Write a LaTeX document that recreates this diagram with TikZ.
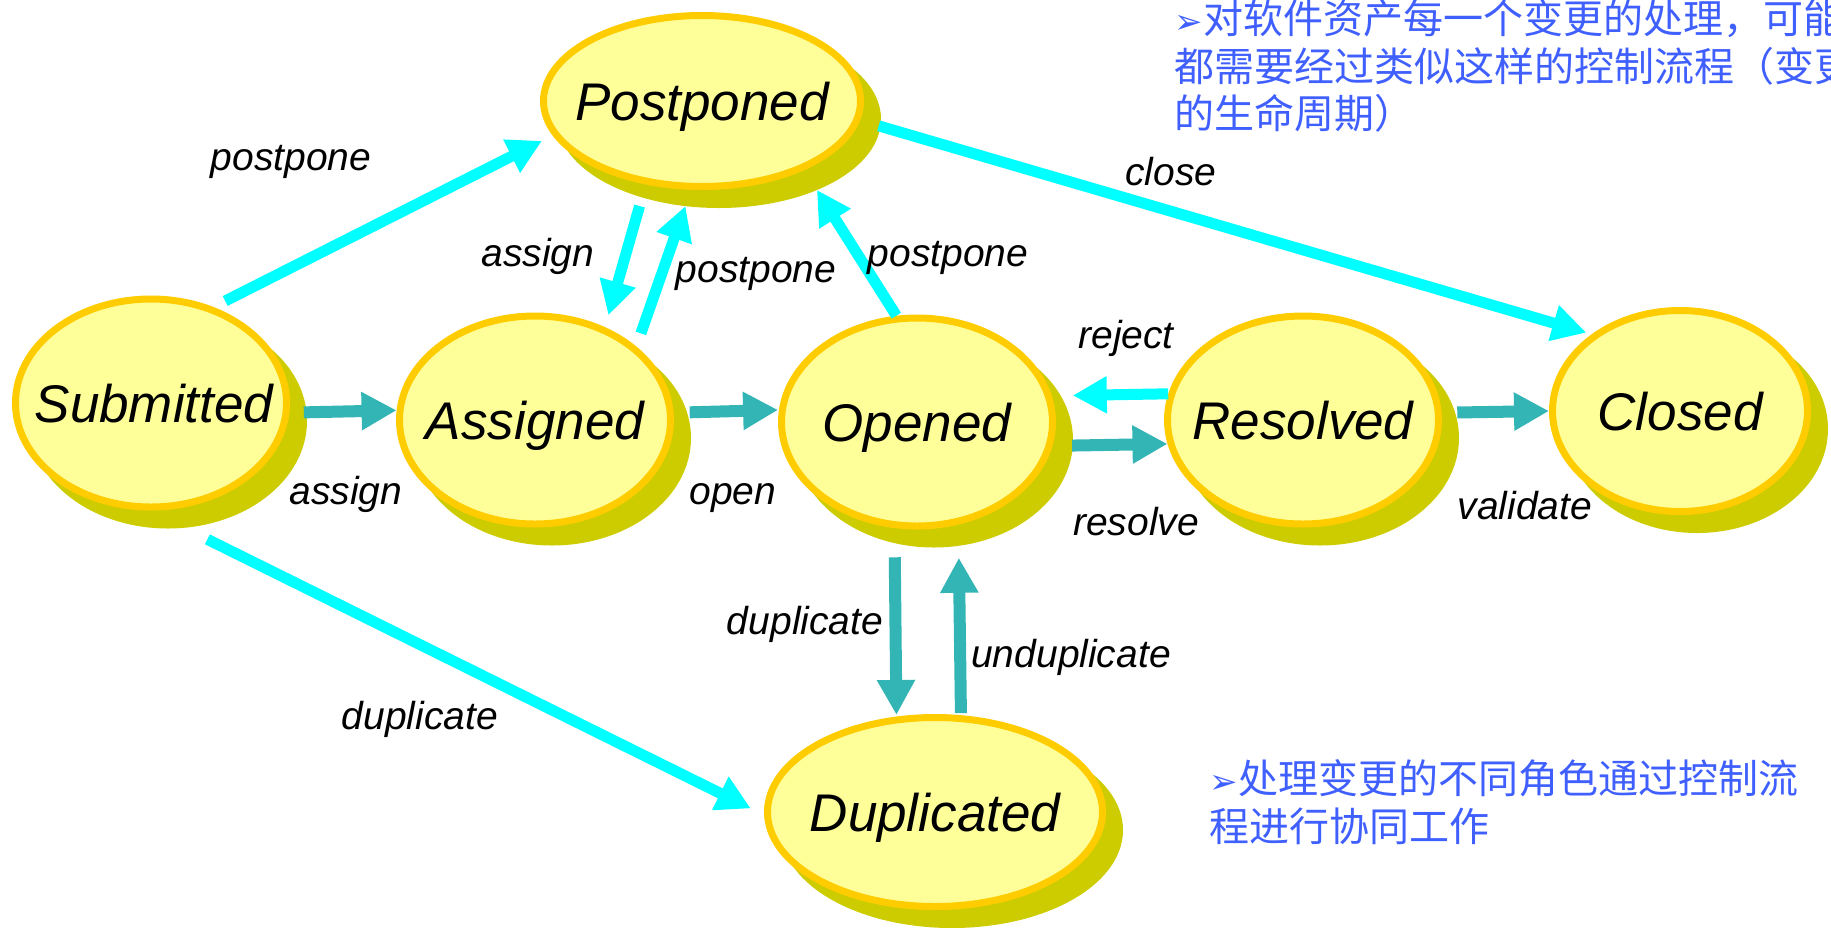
\documentclass[tikz,border=0pt]{standalone}
\usepackage{fontspec}
\setmainfont{Liberation Sans}
\newfontfamily\cjkfont{Noto Sans CJK SC}
\newfontfamily\symfont{DejaVu Sans}
\usetikzlibrary{shapes.geometric,arrows.meta,shadows}
\definecolor{statefill}{HTML}{FFFF99}
\definecolor{stateline}{HTML}{FFCC00}
\definecolor{stateshadow}{HTML}{CCCC00}
\definecolor{flowcyan}{HTML}{00FFFF}
\definecolor{flowteal}{HTML}{33B5B5}
\definecolor{noteblue}{HTML}{3F5FFF}
% zero-width box so the text never enlarges the ellipse
\newcommand\zw[1]{\makebox[0pt]{#1}}
\newcommand\bullitem{\makebox[14.5pt][l]{\symfont\bfseries\fontsize{17}{17}\selectfont ➢}}
\begin{document}
\begin{tikzpicture}[x=0.5pt,y=-0.5pt,
  stbox/.style={ellipse, draw=stateline, fill=statefill, line width=3.5pt,
    inner sep=0pt, outer sep=1.75pt,
    font=\fontsize{26.5}{30}\selectfont\itshape,
    text height=19pt, text depth=0pt,
    general shadow={fill=stateshadow, draw=stateshadow,
      shadow xshift=8.5pt, shadow yshift=-9pt}},
  regular/.style={stbox, minimum width=135.5pt, minimum height=104pt},
  cyanflow/.style={draw=flowcyan, line width=5.5pt,
    -{Triangle[length=17pt, width=17.5pt]}},
  tealflow/.style={draw=flowteal, line width=6pt,
    -{Triangle[length=17.5pt, width=18pt]}},
  flowlabel/.style={anchor=base, inner sep=0pt,
    font=\fontsize{19.5}{22}\selectfont\itshape},
  note/.style={anchor=base west, inner sep=0pt, text=noteblue,
    font=\cjkfont\fontsize{20}{24}\selectfont}]

\useasboundingbox (0,0) rectangle (1831,927);
\clip (0,0) rectangle (1831,927);

% states
\node[regular] (sub) at (151,403) {\zw{\hspace{3pt}Submitted}};
\node[regular] (asg) at (535,420) {\zw{Assigned}};
\node[regular] (opn) at (917,422) {\zw{Opened}};
\node[regular] (res) at (1303,420) {\zw{Resolved}};
\node[stbox, minimum width=127.5pt, minimum height=100.5pt] (cls) at (1680,411) {\zw{Closed}};
\node[stbox, minimum width=158.5pt, minimum height=85.5pt] (post) at (702,101) {\zw{Postponed}};
\node[stbox, minimum width=167.5pt, minimum height=94.5pt] (dup) at (935,812) {\zw{Duplicated}};

% transitions into and out of Postponed / Duplicated / Closed
\draw[cyanflow, shorten <=6.6pt, shorten >=6pt] (sub.57.5) -- (post.193.5);
\draw[cyanflow, shorten <=11.2pt, shorten >=6.2pt] (post.236.3) -- (asg.53.2);
\draw[cyanflow, shorten <=6.9pt, shorten >=8.6pt] (asg.36.5) -- (post.263.5);
\draw[cyanflow, shorten >=11.8pt] (opn.101.2) -- (post.326);
\draw[cyanflow, shorten <=9.7pt, shorten >=2.8pt] (post.353.3) -- (cls.139.3);
\draw[cyanflow, shorten <=32.5pt, shorten >=7.4pt] (sub.269.3) -- (dup.181.2);
\draw[cyanflow, shorten >=10.5pt] (res.169.5) -- (opn.11.4);

% main forward flow
\draw[tealflow, shorten <=7.2pt] (sub.356.7) -- (asg.176.3);
\draw[tealflow, shorten <=8pt, shorten >=0.4pt] (asg.3.7) -- (opn.175.4);
\draw[tealflow, shorten <=9.8pt] (opn.350.8) -- (res.190);
\draw[tealflow, shorten <=7.8pt] (res.3.7) -- (cls.180);
\draw[tealflow, shorten <=14.6pt, shorten >=0.8pt] (opn.258.8) -- (dup.112.2);
\draw[tealflow, shorten <=1pt, shorten >=16.6pt] (dup.75.5) -- (opn.292.9);

% transition labels
\node[flowlabel] (l1) at (291,170) {postpone};
\node[flowlabel] (l2) at (538,266) {assign};
\node[flowlabel] (l3) at (756,282) {postpone};
\node[flowlabel] (l4) at (948,266) {postpone};
\node[flowlabel] (l5) at (1171,185) {close};
\node[flowlabel] (l6) at (1126,348) {reject};
\node[flowlabel] (l7) at (346,504) {assign};
\node[flowlabel] (l8) at (733,504) {open};
\node[flowlabel] (l9) at (1136,535) {resolve};
\node[flowlabel] (l10) at (1525,519) {validate};
\node[flowlabel] (l11) at (805,634) {duplicate};
\node[flowlabel] (l12) at (1071,667) {unduplicate};
\node[flowlabel] (l13) at (420,729) {duplicate};

% notes
\node[note] (na) at (1174,33) {\bullitem 对软件资产每一个变更的处理，可能};
\node[note] (nb) at (1174,81) {都需要经过类似这样的控制流程（变更};
\node[note] (nc) at (1174,128) {的生命周期）};
\node[note] (nd) at (1209,793) {\bullitem 处理变更的不同角色通过控制流};
\node[note] (ne) at (1209,841) {程进行协同工作};
\end{tikzpicture}
\end{document}
